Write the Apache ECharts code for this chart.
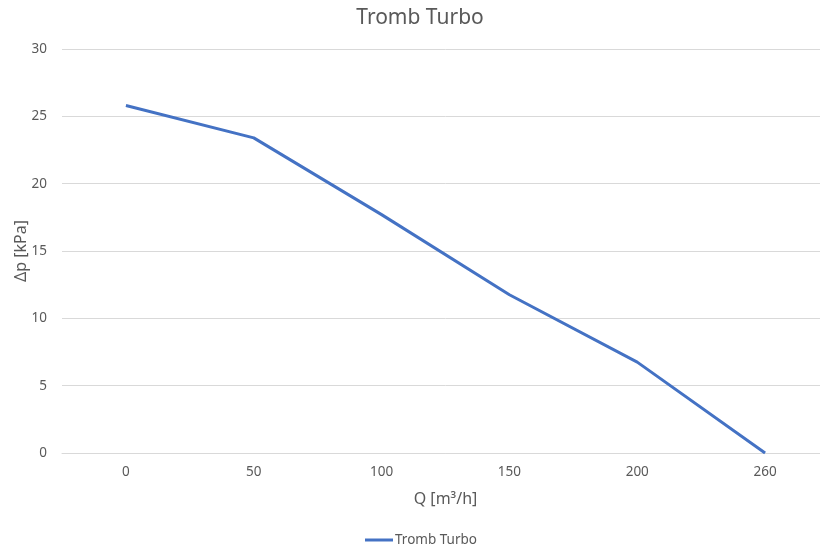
<!DOCTYPE html>
<html>
<head>
<meta charset="utf-8">
<script src="https://cdn.jsdelivr.net/npm/echarts@6/dist/echarts.min.js"></script>
<style>html,body{margin:0;padding:0;background:#fff;overflow:hidden;width:820px;height:546px;}#c{width:830px;height:546px;}</style>
</head>
<body>
<div id="c"></div>
<script>
const categories = ['0', '50', '100', '150', '200', '260'];
const values = [25.8, 23.4, 17.7, 11.75, 6.75, 0];
const seriesName = 'Tromb Turbo';
const yMin = 0, yMax = 30, yInterval = 5;

const font = 'Noto Sans';
const chart = echarts.init(document.getElementById('c'));
chart.setOption({
  animation: false,
  backgroundColor: '#ffffff',
  title: {
    text: 'Tromb Turbo',
    left: 415, top: 3, textAlign: 'center',
    textStyle: { fontFamily: font, fontSize: 21, fontWeight: 'normal', color: '#595959' }
  },
  legend: {
    top: 528, left: 360,
    itemWidth: 28, itemHeight: 3, itemGap: 4,
    icon: 'rect',
    textStyle: { fontFamily: font, fontSize: 13.5, color: '#595959', padding: [0,0,0,-3] },
    data: [seriesName]
  },
  grid: { left: 62, width: 767, top: 49, height: 404, containLabel: false },
  xAxis: {
    type: 'category',
    data: categories,
    boundaryGap: true,
    name: 'Q [m³/h]',
    nameLocation: 'middle',
    nameGap: 38,
    nameMoveOverlap: false,
    nameTextStyle: { fontFamily: font, fontSize: 16, color: '#595959' },
    axisLine: { show: true, lineStyle: { color: '#d9d9d9', width: 1 } },
    axisTick: { show: false },
    axisLabel: { fontFamily: font, fontSize: 13.5, color: '#595959', margin: 12 },
    splitLine: { show: false }
  },
  yAxis: {
    type: 'value',
    min: yMin, max: yMax, interval: yInterval,
    name: 'Δp [kPa]',
    nameLocation: 'middle',
    nameGap: 33,
    nameMoveOverlap: false,
    nameRotate: 90,
    nameTextStyle: { fontFamily: font, fontSize: 16, color: '#595959' },
    axisLine: { show: false },
    axisTick: { show: false },
    axisLabel: { fontFamily: font, fontSize: 13.5, color: '#595959', margin: 15 },
    splitLine: { show: true, lineStyle: { color: '#d9d9d9', width: 1 } }
  },
  series: [{
    name: seriesName,
    type: 'line',
    data: values,
    showSymbol: false,
    symbol: 'none',
    lineStyle: { color: '#4472C4', width: 3 },
    itemStyle: { color: '#4472C4' }
  }]
});
</script>
</body>
</html>
